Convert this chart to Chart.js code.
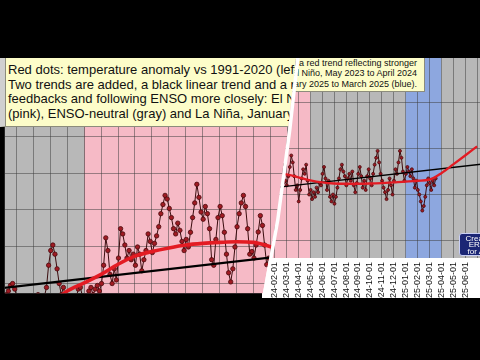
<!DOCTYPE html>
<html>
<head>
<meta charset="utf-8">
<script src="https://cdn.jsdelivr.net/npm/chart.js@4.4.1/dist/chart.umd.min.js"></script>
<style>
    body { margin: 0; width: 480px; height: 360px; overflow: hidden; background: #000; position: relative; font-family: 'Liberation Sans', Arial, sans-serif; }
    .abs { position: absolute; box-sizing: border-box; }
    #rightPanel { left: 262px; top: 52px; width: 230px; height: 250px; background: #fff; z-index: 1; }
    #rightNote { left: 0; bottom: 268px; width: 425px; background: #fdfdc9; border: 1px solid #8c8c7c; padding: 0 7px 2px 0; text-align: right; font-size: 9px; line-height: 10.5px; color: #111; white-space: nowrap; z-index: 2; }
    #era { left: 459px; top: 233px; width: 58px; height: 23px; background: #1b2675; border: 1px solid #c9cff5; border-radius: 3px; color: #fff; font-size: 8px; line-height: 6.4px; text-align: center; padding-top: 2px; white-space: nowrap; z-index: 2; }
    #leftPanel { left: 0; top: 58px; width: 300px; height: 240px; z-index: 3; clip-path: polygon(0 0, 296px 0, 288px 72px, 276px 162px, 262px 240px, 0 240px); }
    #leftNote { left: 0; top: 0; width: 330px; background: #fdfdc9; border-bottom: 1px solid #8c8c7c; border-left: 5px solid #d0d0d0; box-shadow: inset 1px 0 0 #8c8c7c; padding: 5px 0 4px 3px; font-size: 13px; line-height: 14.7px; color: #111; white-space: nowrap; }
    #edge { left: 0; top: 0; width: 480px; height: 360px; background: #fff; z-index: 4; clip-path: polygon(296px 58px, 299.5px 58px, 291.5px 130px, 279.5px 220px, 265.5px 298px, 262px 298px, 276px 220px, 288px 130px); }
    #topBar { left: 0; top: 0; width: 480px; height: 58px; background: #000; z-index: 5; }
    #bottomBar { left: 0; top: 298px; width: 480px; height: 62px; background: #000; z-index: 5; }
</style>
</head>
<body>
<div id="rightPanel" class="abs"><canvas id="rightChart"></canvas></div>
<div id="rightNote" class="abs">
    <div>Two trends are added, a black linear trend and a red trend reflecting stronger</div>
    <div>feedbacks and following ENSO more closely: El Niño, May 2023 to April 2024</div>
    <div>(pink), ENSO-neutral (gray) and La Niña, January 2025 to March 2025 (blue).</div>
</div>
<div id="era" class="abs">Created with<br>ERA5 data<br>for Analysis</div>
<div id="leftPanel" class="abs">
    <canvas id="leftChart"></canvas>
    <div id="leftNote" class="abs">
        <div>Red dots: temperature anomaly vs 1991-2020 (left axis)</div>
        <div>Two trends are added, a black linear trend and a red</div>
        <div>feedbacks and following ENSO more closely: El Niño</div>
        <div>(pink), ENSO-neutral (gray) and La Niña, January</div>
    </div>
</div>
<div id="edge" class="abs"></div>
<div id="topBar" class="abs"></div>
<div id="bottomBar" class="abs"></div>
<script>
// months counted from 2023-01-01 (0 = Jan 2023, 13 = Feb 2024)
const firstMonth = -0.6
const stepMonths = 0.125
const anomaly = [
    0.528, 0.539, 0.556, 0.562, 0.545, 0.522, 0.511, 0.517, 0.505, 0.517,
    0.505, 0.522, 0.511, 0.500, 0.517, 0.528, 0.511, 0.505, 0.522, 0.550,
    0.618, 0.663, 0.680, 0.652, 0.607, 0.562, 0.528, 0.550, 0.517, 0.505,
    0.522, 0.511, 0.500, 0.517, 0.545, 0.550, 0.522, 0.511, 0.517, 0.539,
    0.550, 0.528, 0.545, 0.556, 0.539, 0.562, 0.618, 0.702, 0.663, 0.590,
    0.562, 0.607, 0.573, 0.640, 0.730, 0.714, 0.680, 0.640, 0.663, 0.635,
    0.652, 0.618, 0.674, 0.652, 0.601, 0.635, 0.663, 0.714, 0.691, 0.657,
    0.685, 0.708, 0.736, 0.776, 0.804, 0.832, 0.821, 0.792, 0.764, 0.730,
    0.714, 0.747, 0.725, 0.691, 0.663, 0.697, 0.674, 0.719, 0.764, 0.809,
    0.866, 0.826, 0.781, 0.759, 0.798, 0.776, 0.730, 0.635, 0.618, 0.697,
    0.764, 0.798, 0.770, 0.719, 0.652, 0.595, 0.567, 0.607, 0.674, 0.736,
    0.776, 0.809, 0.832, 0.798, 0.730, 0.652, 0.660, 0.640, 0.680, 0.720,
    0.770, 0.740, 0.680, 0.620, 0.640, 0.570, 0.620, 0.670,
    0.71, 0.69, 0.73, 0.66, 0.60, 0.62, 0.58, 0.61,
    0.59, 0.63, 0.61, 0.65, 0.64, 0.69, 0.72, 0.67,
    0.62, 0.66, 0.59, 0.57, 0.60, 0.56, 0.59, 0.63,
    0.67, 0.71, 0.73, 0.70, 0.68, 0.64, 0.67, 0.69,
    0.66, 0.70, 0.64, 0.61, 0.65, 0.69, 0.72, 0.68,
    0.63, 0.66, 0.62, 0.68, 0.71, 0.67, 0.64, 0.69,
    0.73, 0.76, 0.79, 0.74, 0.69, 0.66, 0.63, 0.61,
    0.58, 0.62, 0.67, 0.64, 0.60, 0.66, 0.71, 0.69,
    0.74, 0.79, 0.76, 0.70, 0.66, 0.69, 0.72, 0.70,
    0.68, 0.71, 0.67, 0.63, 0.66, 0.62, 0.60, 0.57,
    0.53, 0.55, 0.59, 0.64, 0.67, 0.65, 0.62, 0.66,
    0.64, 0.67,
]
const redTrendMonths = [2.5, 3, 4, 5, 6, 7, 8, 9, 10, 11, 12, 13, 14, 15, 16, 17, 18, 19, 20, 21, 22, 23, 24, 25, 26, 27, 28, 29, 30]
const redTrendValues = [
    0.52, 0.539, 0.564, 0.590, 0.621, 0.646, 0.660, 0.671, 0.680, 0.685, 0.688, 0.690, 0.688,
    0.675, 0.662, 0.653, 0.648, 0.647, 0.647, 0.648, 0.650, 0.653, 0.656, 0.660, 0.665,
    0.693, 0.731, 0.770, 0.810,
]
const blackTrendMonths = [-1, 31]
const blackTrendValues = [0.547, 0.736]
const phaseBounds = [-12, 4, 16, 24, 27, 40]
const phases = ['neutral', 'elnino', 'neutral', 'lanina', 'neutral']
const firstLabelMonth = 13
const tickLabels = [
    '2024-02-01', '2024-03-01', '2024-04-01', '2024-05-01', '2024-06-01', '2024-07-01',
    '2024-08-01', '2024-09-01', '2024-10-01', '2024-11-01', '2024-12-01', '2025-01-01',
    '2025-02-01', '2025-03-01', '2025-04-01', '2025-05-01', '2025-06-01',
]

const phaseColors = { neutral: '#b8b8b8', elnino: '#f6bac6', lanina: '#8da7df' }
const fontFamily = "'Liberation Sans', Arial, sans-serif"

const bandPlugin = {
    id: 'ensoBands',
    beforeDraw(chart) {
        const { ctx, chartArea: area, scales } = chart
        ctx.save()
        for (let k = 0; k < phases.length; k++) {
            const x0 = Math.max(area.left, scales.x.getPixelForValue(phaseBounds[k]))
            const x1 = Math.min(area.right, scales.x.getPixelForValue(phaseBounds[k + 1]))
            if (x1 <= x0) continue
            ctx.fillStyle = phaseColors[phases[k]]
            ctx.fillRect(x0, area.top, x1 - x0, area.bottom - area.top)
        }
        ctx.restore()
    },
}

function stepTicks(step) {
    return (scale) => {
        const ticks = []
        for (let k = Math.ceil(scale.min / step - 1e-9); k * step <= scale.max + 1e-9; k++) {
            ticks.push({ value: k * step })
        }
        scale.ticks = ticks
    }
}

function makeChart(id, o) {
    const grid = { color: 'rgba(60,60,60,0.5)', lineWidth: 1, drawTicks: false }
    return new Chart(document.getElementById(id), {
        type: 'line',
        data: {
            datasets: [
                {
                    data: redTrendMonths.map((m, i) => ({ x: m, y: redTrendValues[i] })),
                    borderColor: '#e31b23',
                    borderWidth: o.redWidth,
                    cubicInterpolationMode: 'monotone',
                    pointRadius: 0,
                    order: 0,
                },
                {
                    data: blackTrendMonths.map((m, i) => ({ x: m, y: blackTrendValues[i] })),
                    borderColor: '#000',
                    borderWidth: o.blackWidth,
                    pointRadius: 0,
                    order: 1,
                },
                {
                    data: anomaly.map((v, i) => ({ x: firstMonth + i * stepMonths, y: v })),
                    borderColor: '#3a0c0e',
                    borderWidth: 1,
                    pointRadius: o.dotRadius,
                    pointBackgroundColor: '#a01b23',
                    pointBorderColor: '#4a0a0e',
                    pointBorderWidth: 0.8,
                    order: 2,
                },
            ],
        },
        options: {
            responsive: true,
            maintainAspectRatio: false,
            animation: false,
            events: [],
            layout: { padding: 0 },
            plugins: { legend: { display: false }, tooltip: { enabled: false } },
            scales: {
                x: {
                    type: 'linear',
                    min: o.xMin,
                    max: o.xMax,
                    grid: grid,
                    border: { display: false },
                    afterBuildTicks: stepTicks(1),
                    afterFit: (s) => { s.height = o.axisHeight },
                    ticks: {
                        display: o.showLabels,
                        autoSkip: false,
                        minRotation: 90,
                        maxRotation: 90,
                        padding: 4,
                        color: '#111',
                        font: { size: 9, family: fontFamily },
                        callback: (value) => tickLabels[Math.round(value) - firstLabelMonth] || '',
                    },
                },
                y: {
                    min: o.yMin,
                    max: o.yMax,
                    grid: grid,
                    border: { display: false },
                    ticks: { display: false },
                    afterBuildTicks: stepTicks(o.yStep),
                    afterFit: (s) => { s.width = 0 },
                },
            },
        },
        plugins: [bandPlugin],
    })
}

makeChart('rightChart', {
    xMin: 12.346, xMax: 30.457, yMin: 0.3234, yMax: 1.2, yStep: 0.2,
    dotRadius: 1.5, redWidth: 2.3, blackWidth: 1.3, showLabels: true, axisHeight: 44,
})
makeChart('leftChart', {
    xMin: -0.686, xMax: 16.457, yMin: 0.5324, yMax: 1.2382, yStep: 0.1125,
    dotRadius: 2.2, redWidth: 3.6, blackWidth: 2.2, showLabels: false, axisHeight: 0,
})
</script>
</body>
</html>
